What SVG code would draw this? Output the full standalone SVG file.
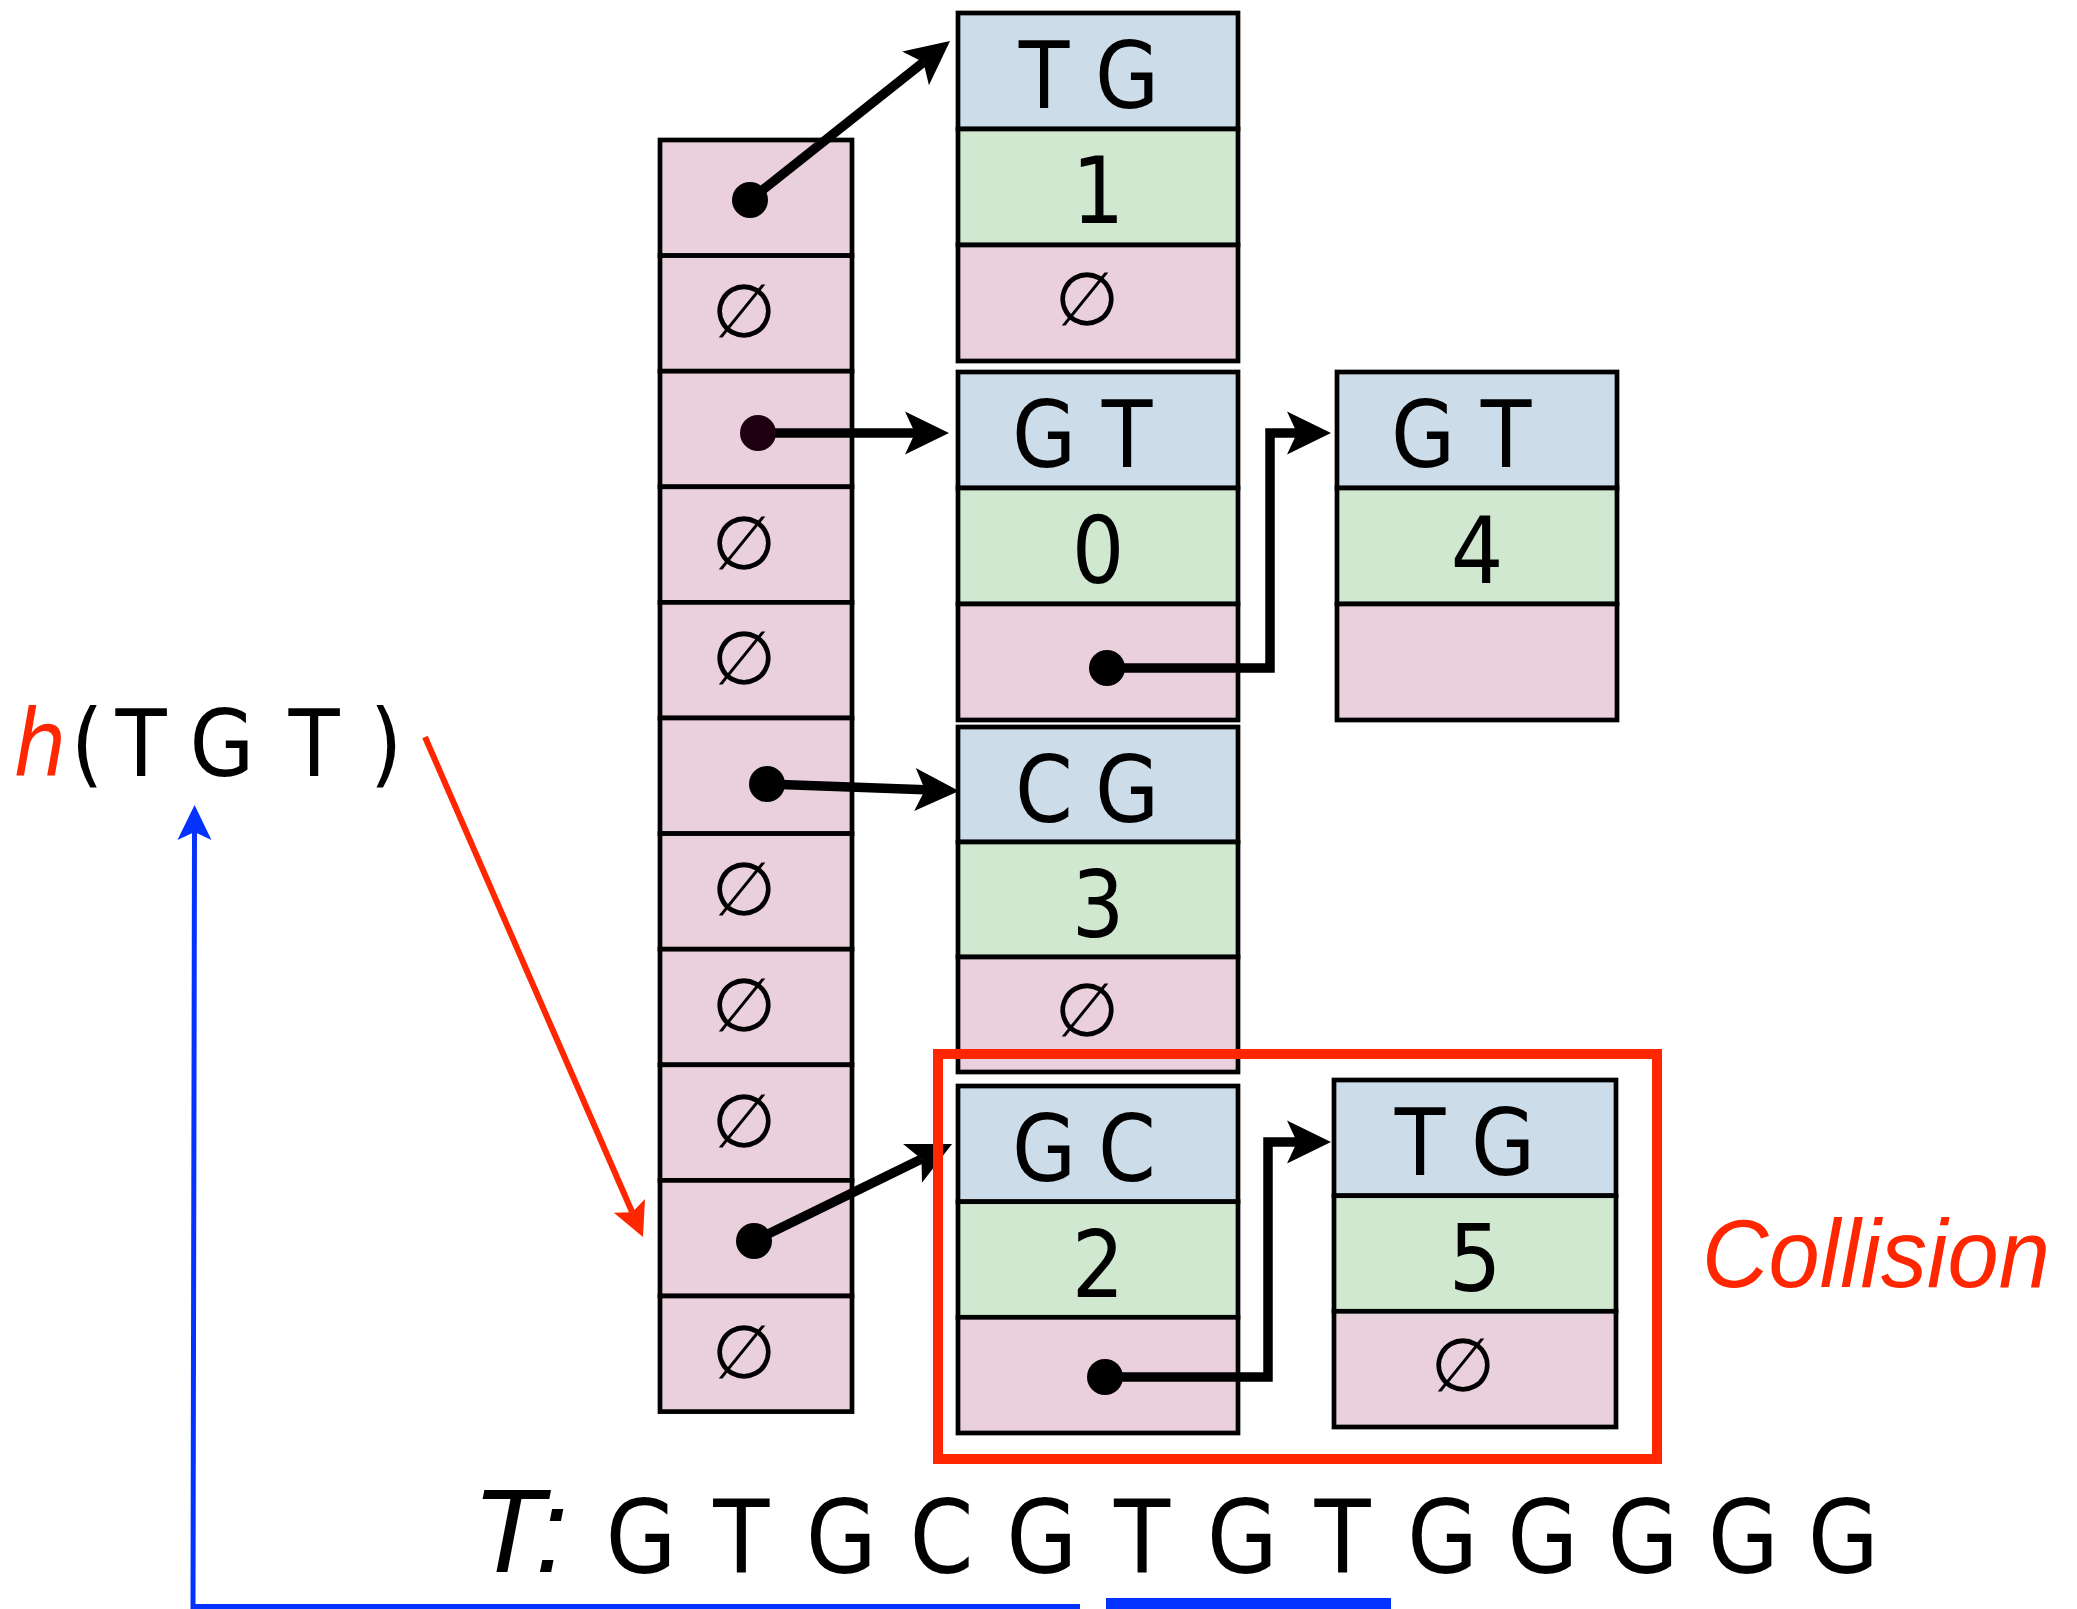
<svg xmlns="http://www.w3.org/2000/svg" width="2077" height="1609" viewBox="0 0 2077 1609">
<style>
.pk{fill:#E9D0DC;stroke:#000;stroke-width:4.7}
.bl{fill:#CCDCE9;stroke:#000;stroke-width:4.7}
.gr{fill:#CFE8CF;stroke:#000;stroke-width:4.7}
.lt{font-family:"Liberation Sans Narrow","DejaVu Sans Condensed","Liberation Sans",sans-serif;font-size:92px;fill:#000;text-anchor:middle}
.es{font-family:"DejaVu Sans",sans-serif;font-size:74px;fill:#000;text-anchor:middle}
.con{fill:none;stroke:#000;stroke-width:9.5}
.dot{fill:#000}
</style>
<defs>
<marker id="ah" markerUnits="userSpaceOnUse" orient="auto" refX="0" refY="0" markerWidth="60" markerHeight="60" overflow="visible">
<path d="M34,0 L-10,-21.5 L0,0 L-10,21.5 Z" fill="#000"/>
</marker>
<marker id="ahr" markerUnits="userSpaceOnUse" orient="auto" refX="0" refY="0" markerWidth="60" markerHeight="60" overflow="visible">
<path d="M27,0 L-7,-17 L0,0 L-7,17 Z" fill="#FF2600"/>
</marker>
<marker id="ahb" markerUnits="userSpaceOnUse" orient="auto" refX="0" refY="0" markerWidth="60" markerHeight="60" overflow="visible">
<path d="M27,0 L-8,-17 L0,0 L-8,17 Z" fill="#0433FF"/>
</marker>
</defs>
<rect width="2077" height="1609" fill="#fff"/>

<g id="hash-table">
<rect class="pk" x="660" y="140" width="192" height="115.6"/>
<rect class="pk" x="660" y="255.6" width="192" height="115.6"/>
<rect class="pk" x="660" y="371.2" width="192" height="115.6"/>
<rect class="pk" x="660" y="486.8" width="192" height="115.6"/>
<rect class="pk" x="660" y="602.4" width="192" height="115.6"/>
<rect class="pk" x="660" y="718" width="192" height="115.6"/>
<rect class="pk" x="660" y="833.6" width="192" height="115.6"/>
<rect class="pk" x="660" y="949.2" width="192" height="115.6"/>
<rect class="pk" x="660" y="1064.8" width="192" height="115.6"/>
<rect class="pk" x="660" y="1180.4" width="192" height="115.6"/>
<rect class="pk" x="660" y="1296" width="192" height="115.6"/>
<text class="es" x="744" y="337">∅</text>
<text class="es" x="744" y="569">∅</text>
<text class="es" x="744" y="684">∅</text>
<text class="es" x="744" y="915">∅</text>
<text class="es" x="744" y="1031">∅</text>
<text class="es" x="744" y="1147">∅</text>
<text class="es" x="744" y="1378">∅</text>
</g>

<g id="node-TG-1">
<rect class="bl" x="958" y="13" width="280" height="116"/>
<rect class="gr" x="958" y="129" width="280" height="116"/>
<rect class="pk" x="958" y="245" width="280" height="116"/>
<text class="lt" x="1044 1086 1127" y="108">T G</text>
<text class="lt" x="1098" y="223">1</text>
<text class="es" x="1087" y="325">∅</text>
</g>

<g id="node-GT-0">
<rect class="bl" x="958" y="372" width="280" height="116"/>
<rect class="gr" x="958" y="488" width="280" height="116"/>
<rect class="pk" x="958" y="604" width="280" height="116"/>
<text class="lt" x="1044 1086 1127" y="467">G T</text>
<text class="lt" x="1098" y="583">0</text>
</g>

<g id="node-GT-4">
<rect class="bl" x="1337" y="372" width="280" height="116"/>
<rect class="gr" x="1337" y="488" width="280" height="116"/>
<rect class="pk" x="1337" y="604" width="280" height="116"/>
<text class="lt" x="1423 1465 1506" y="467">G T</text>
<text class="lt" x="1477" y="583">4</text>
</g>

<g id="node-CG-3">
<rect class="bl" x="958" y="727" width="280" height="115"/>
<rect class="gr" x="958" y="842" width="280" height="115"/>
<rect class="pk" x="958" y="957" width="280" height="115"/>
<text class="lt" x="1044 1086 1127" y="822">C G</text>
<text class="lt" x="1098" y="937">3</text>
<text class="es" x="1087" y="1036">∅</text>
</g>

<g id="node-GC-2">
<rect class="bl" x="958" y="1086" width="280" height="115.7"/>
<rect class="gr" x="958" y="1201.7" width="280" height="115.6"/>
<rect class="pk" x="958" y="1317.3" width="280" height="115.7"/>
<text class="lt" x="1044 1086 1127" y="1181">G C</text>
<text class="lt" x="1098" y="1297">2</text>
</g>

<g id="node-TG-5">
<rect class="bl" x="1334" y="1080" width="282" height="115.7"/>
<rect class="gr" x="1334" y="1195.7" width="282" height="115.6"/>
<rect class="pk" x="1334" y="1311.3" width="282" height="115.7"/>
<text class="lt" x="1420 1462 1503" y="1175">T G</text>
<text class="lt" x="1475" y="1291">5</text>
<text class="es" x="1463" y="1391">∅</text>
</g>

<g id="connectors">
<line class="con" x1="750" y1="200" x2="923.4" y2="62.2" marker-end="url(#ah)"/>
<line class="con" x1="758" y1="433" x2="915" y2="433" stroke="#1E0010" marker-end="url(#ah)"/>
<line class="con" x1="767" y1="784" x2="925" y2="789.8" marker-end="url(#ah)"/>
<line class="con" x1="754" y1="1241" x2="921.5" y2="1159" marker-end="url(#ah)"/>
<path class="con" d="M1107,668 H1270 V433 H1297" marker-end="url(#ah)"/>
<path class="con" d="M1105,1377 H1268 V1142 H1297" marker-end="url(#ah)"/>
<circle class="dot" cx="750" cy="200" r="18"/>
<circle class="dot" cx="758" cy="433" r="18" style="fill:#1E0010"/>
<circle class="dot" cx="767" cy="784" r="18"/>
<circle class="dot" cx="754" cy="1241" r="18"/>
<circle class="dot" cx="1107" cy="668" r="18"/>
<circle class="dot" cx="1105" cy="1377" r="18"/>
<line x1="425" y1="737" x2="632.2" y2="1212.3" stroke="#FF2600" stroke-width="6" marker-end="url(#ahr)"/>
<path d="M1080,1606.5 H193 L194.5,832" fill="none" stroke="#0433FF" stroke-width="5" marker-end="url(#ahb)"/>
</g>

<g id="collision">
<rect x="938" y="1054" width="719" height="405" fill="none" stroke="#FF2600" stroke-width="10"/>
<text x="1702" y="1287" font-family="'Liberation Sans Narrow','Liberation Sans',sans-serif" font-style="italic" font-size="96" fill="#FF2600" textLength="348" lengthAdjust="spacingAndGlyphs">Collision</text>
</g>

<g id="hash-label">
<text y="776" font-family="'Liberation Sans Narrow','DejaVu Sans Condensed','Liberation Sans',sans-serif" font-size="93" text-anchor="middle"><tspan x="40" fill="#FF2600" font-style="italic">h</tspan><tspan x="87 141 182 222 268 314 350 386" fill="#000">(T G T )</tspan></text>
</g>

<g id="text-T">
<text x="472" y="1572" font-family="'Liberation Sans Narrow','Liberation Sans',sans-serif" font-style="italic" font-size="118" fill="#000">T:</text>
<text class="lt" y="1573" x="641 691.1 741.2 791.3 841.4 891.5 941.6 991.7 1041.8 1091.9 1142 1192.1 1242.2 1292.3 1342.4 1392.5 1442.6 1492.7 1542.8 1592.9 1643 1693.1 1743.2 1793.3 1843.4" style="font-size:102px">G T G C G T G T G G G G G</text>
<rect x="1106" y="1598" width="285" height="11" fill="#0433FF"/>
</g>
</svg>
